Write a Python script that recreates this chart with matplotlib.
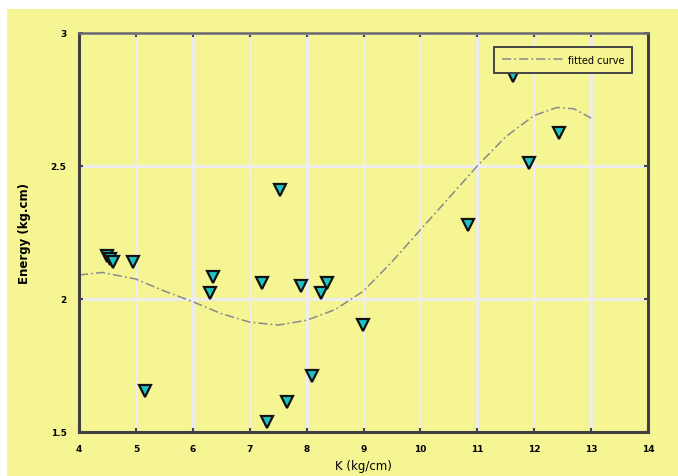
import matplotlib.pyplot as plt
from matplotlib.patches import Rectangle

# measured stiffness K (kg/cm) and energy (kg.cm)
k_vals = [4.50, 4.55, 4.60, 4.95, 5.16, 6.31, 6.36, 7.21, 7.30, 7.53, 7.65,
          7.91, 8.10, 8.25, 8.36, 8.99, 10.83, 11.63, 11.91, 12.44]
energy = [2.16, 2.15, 2.14, 2.14, 1.655, 2.023, 2.083, 2.06, 1.537, 2.41, 1.613,
          2.05, 1.71, 2.023, 2.06, 1.902, 2.278, 2.84, 2.51, 2.624]

# fitted curve, sampled
fit_k = [4.0, 4.4, 5.0, 5.5, 6.0, 6.5, 7.0, 7.5, 8.0, 8.5, 9.0, 9.5,
         10.0, 10.5, 11.0, 11.5, 12.0, 12.4, 12.7, 13.0]
fit_e = [2.09, 2.10, 2.075, 2.03, 1.99, 1.945, 1.913, 1.902, 1.92, 1.96,
         2.03, 2.14, 2.26, 2.38, 2.50, 2.61, 2.69, 2.72, 2.715, 2.68]

xticks = [4, 5, 6, 7, 8, 9, 10, 11, 12, 13, 14]
yticks = [1.5, 2, 2.5, 3]
ytick_labels = ['1.5', '2', '2.5', '3']

yellow = '#F5F594'

fig = plt.figure(figsize=(6.78, 4.77), dpi=100, facecolor='white')
fig.patches.append(Rectangle((7 / 678, 0), 1, 1 - 10 / 477, transform=fig.transFigure,
                             facecolor=yellow, edgecolor='none', zorder=-10))
ax = fig.add_axes([79 / 678, 1 - 433 / 477, (648 - 79) / 678, (433 - 34) / 477])
ax.set_facecolor(yellow)

ax.plot(fit_k, fit_e, color='#8a8a8a', lw=1.1, ls=(0, (6, 2, 1.2, 2)),
        label='fitted curve', zorder=2)
ax.plot(k_vals, energy, ls='none', marker='v', ms=8.5, mfc='#1EC4C4',
        mec='#111111', mew=1.6, zorder=3)

ax.set_xlim(4, 14)
ax.set_ylim(1.5, 3)
ax.set_xticks(xticks)
ax.set_yticks(yticks)
ax.set_yticklabels(ytick_labels)
ax.grid(True, color='#EDEDED', lw=2.2, zorder=0)
ax.set_axisbelow(True)
ax.tick_params(direction='in', length=3, width=1.5, color='#444444',
               top=True, right=True, labelsize=6.5, pad=9)
for lab in ax.get_xticklabels() + ax.get_yticklabels():
    lab.set_fontweight('bold')

for side in ['left', 'bottom', 'right']:
    ax.spines[side].set_color('#404040')
    ax.spines[side].set_linewidth(2.2)
ax.spines['top'].set_color('#6a6a6a')
ax.spines['top'].set_linewidth(1.8)

ax.set_xlabel('K (kg/cm)', fontsize=8.5, labelpad=4)
ax.set_ylabel('Energy (kg.cm)', fontsize=8.5, fontweight='bold', labelpad=14)

leg = ax.legend(loc='upper right', bbox_to_anchor=(0.972, 0.965), borderaxespad=0,
                fontsize=7, handlelength=6.5, handletextpad=0.3, fancybox=False,
                borderpad=0.8, framealpha=1)
leg.get_frame().set_facecolor(yellow)
leg.get_frame().set_edgecolor('#444444')
leg.get_frame().set_linewidth(1.4)

fig.savefig('out.png', dpi=100, facecolor='white')
